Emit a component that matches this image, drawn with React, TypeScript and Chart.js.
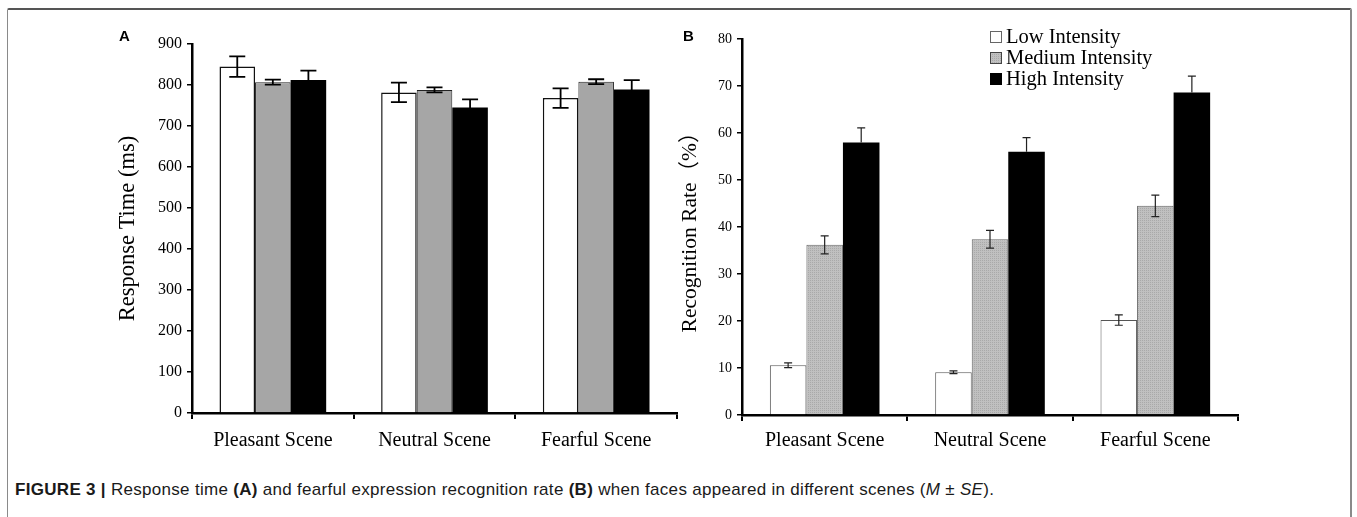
import React, { useEffect, useRef } from 'react';
import { Chart, registerables } from 'chart.js';

Chart.register(...registerables);

// ---------- data ----------
const categories = ['Pleasant Scene', 'Neutral Scene', 'Fearful Scene'];
const seriesLabels = ['Low Intensity', 'Medium Intensity', 'High Intensity'];

// Panel A: response time (ms)
const rtLow = [845, 782, 768];
const rtMedium = [807, 788, 808];
const rtHigh = [812, 745, 789];
const rtLowErr = [25, 24, 24];
const rtMediumErr = [6, 6, 6];
const rtHighErr = [23, 20, 23];
const rtMin = 0;
const rtMax = 900;
const rtStep = 100;

// Panel B: recognition rate (%)
const rateLow = [10.6, 9.1, 20.2];
const rateMedium = [36.2, 37.4, 44.5];
const rateHigh = [58.0, 56.0, 68.6];
const rateLowErr = [0.5, 0.3, 1.1];
const rateMediumErr = [1.9, 1.9, 2.3];
const rateHighErr = [3.1, 3.0, 3.5];
const rateMin = 0;
const rateMax = 80;
const rateStep = 10;

const SERIF = "'Liberation Serif', 'Times New Roman', serif";
const SERIF_CJK = "'Liberation Serif', 'Noto Sans CJK SC', serif";

// ---------- plugins ----------
const errorBarPlugin = {
  id: 'errorBars',
  afterDatasetsDraw(chart: any, _args: any, opts: any) {
    const ctx = chart.ctx;
    const y = chart.scales.y;
    chart.data.datasets.forEach((ds: any, i: number) => {
      const meta = chart.getDatasetMeta(i);
      if (!ds.errors) return;
      ctx.save();
      ctx.strokeStyle = opts.color || '#000';
      ctx.lineWidth = opts.lineWidth || 1;
      const half = (opts.capWidth || 10) / 2;
      meta.data.forEach((bar: any, j: number) => {
        const v = ds.data[j];
        const e = ds.errors[j];
        const top = y.getPixelForValue(v + e);
        const bot = ds.upperOnly ? y.getPixelForValue(v) : y.getPixelForValue(v - e);
        const x = bar.x;
        ctx.beginPath();
        ctx.moveTo(x, top);
        ctx.lineTo(x, bot);
        ctx.moveTo(x - half, top);
        ctx.lineTo(x + half, top);
        if (!ds.upperOnly) {
          ctx.moveTo(x - half, bot);
          ctx.lineTo(x + half, bot);
        }
        ctx.stroke();
      });
      ctx.restore();
    });
  },
};

const boxLegendPlugin = {
  id: 'boxLegend',
  afterDraw(chart: any, _args: any, opts: any) {
    if (!opts || !opts.display) return;
    const ctx = chart.ctx;
    ctx.save();
    ctx.font = `${opts.fontSize}px ${SERIF}`;
    ctx.textBaseline = 'middle';
    ctx.textAlign = 'left';
    chart.data.datasets.forEach((ds: any, i: number) => {
      const cy = opts.y + i * opts.rowHeight;
      const bx = opts.x;
      const s = opts.box;
      ctx.fillStyle = ds.backgroundColor;
      ctx.fillRect(bx, cy - s / 2, s, s);
      ctx.strokeStyle = ds.legendBorder || '#000';
      ctx.lineWidth = 1;
      ctx.strokeRect(bx + 0.5, cy - s / 2 + 0.5, s - 1, s - 1);
      ctx.fillStyle = '#000';
      ctx.fillText(ds.label, bx + s + 4, cy + 1);
    });
    ctx.restore();
  },
};

function makeDotPattern(): CanvasPattern | string {
  const c = document.createElement('canvas');
  c.width = 2;
  c.height = 2;
  const g = c.getContext('2d');
  if (!g) return '#b8b8b8';
  g.fillStyle = '#c0c0c0';
  g.fillRect(0, 0, 2, 2);
  g.fillStyle = '#a9a9a9';
  g.fillRect(0, 0, 1, 1);
  const p = g.createPattern(c, 'repeat');
  return p || '#b8b8b8';
}

function axisCommon() {
  return {
    grid: {
      display: true,
      drawOnChartArea: false,
      drawTicks: true,
      color: '#000',
      lineWidth: 2,
    },
    border: { display: true, color: '#000', width: 2.5 },
  };
}

function ChartA() {
  const ref = useRef<HTMLCanvasElement>(null);
  useEffect(() => {
    if (!ref.current) return;
    const chart = new Chart(ref.current, {
      type: 'bar',
      data: {
        labels: categories,
        datasets: [
          {
            label: seriesLabels[0],
            data: rtLow,
            errors: rtLowErr,
            backgroundColor: '#ffffff',
            borderColor: '#111',
            borderWidth: 1.5,
          } as any,
          {
            label: seriesLabels[1],
            data: rtMedium,
            errors: rtMediumErr,
            backgroundColor: '#a6a6a6',
            borderColor: '#222',
            borderWidth: 1,
          } as any,
          {
            label: seriesLabels[2],
            data: rtHigh,
            errors: rtHighErr,
            backgroundColor: '#000000',
            borderColor: '#000',
            borderWidth: 0,
          } as any,
        ],
      },
      options: {
        animation: false,
        responsive: false,
        devicePixelRatio: 1,
        layout: { padding: { top: 24, right: 3, bottom: 0, left: 0 } },
        datasets: { bar: { barPercentage: 1, categoryPercentage: 0.66 } },
        plugins: {
          legend: { display: false },
          tooltip: { enabled: false },
          errorBars: { capWidth: 16, lineWidth: 1.8, color: '#000' },
          boxLegend: { display: false },
        } as any,
        scales: {
          x: {
            ...axisCommon(),
            offset: true,
            grid: { ...axisCommon().grid, offset: true, tickLength: 6 },
            ticks: { color: '#000', font: { family: SERIF, size: 20 }, padding: 10 },
            afterFit: (s: any) => {
              s.height = 57;
            },
          },
          y: {
            ...axisCommon(),
            min: rtMin,
            max: rtMax,
            grid: { ...axisCommon().grid, tickLength: 5, lineWidth: 1.5 },
            ticks: { stepSize: rtStep, color: '#000', font: { family: SERIF, size: 16 }, padding: 5 },
            title: {
              display: true,
              text: 'Response Time (ms)',
              color: '#000',
              font: { family: SERIF, size: 22.5 },
              padding: { top: 15, bottom: 0 },
            },
            afterFit: (s: any) => {
              s.width = 92;
            },
          },
        },
      } as any,
      plugins: [errorBarPlugin, boxLegendPlugin],
    });
    return () => chart.destroy();
  }, []);
  return <canvas ref={ref} width={580} height={450} style={{ width: 580, height: 450, display: 'block' }} />;
}

function ChartB() {
  const ref = useRef<HTMLCanvasElement>(null);
  useEffect(() => {
    if (!ref.current) return;
    const pattern = makeDotPattern();
    const chart = new Chart(ref.current, {
      type: 'bar',
      data: {
        labels: categories,
        datasets: [
          {
            label: seriesLabels[0],
            data: rateLow,
            errors: rateLowErr,
            backgroundColor: '#ffffff',
            borderColor: '#555',
            borderWidth: 1,
            legendBorder: '#666',
          } as any,
          {
            label: seriesLabels[1],
            data: rateMedium,
            errors: rateMediumErr,
            backgroundColor: pattern,
            borderColor: '#666',
            borderWidth: 1,
            legendBorder: '#444',
          } as any,
          {
            label: seriesLabels[2],
            data: rateHigh,
            errors: rateHighErr,
            upperOnly: true,
            backgroundColor: '#000000',
            borderColor: '#000',
            borderWidth: 0,
            legendBorder: '#000',
          } as any,
        ],
      },
      options: {
        animation: false,
        responsive: false,
        devicePixelRatio: 1,
        layout: { padding: { top: 19, right: 102, bottom: 0, left: 0 } },
        datasets: { bar: { barPercentage: 1, categoryPercentage: 0.663 } },
        plugins: {
          legend: { display: false },
          tooltip: { enabled: false },
          errorBars: { capWidth: 8, lineWidth: 1.2, color: '#222' },
          boxLegend: { display: true, x: 350, y: 17, rowHeight: 21, box: 12, fontSize: 20.5 },
        } as any,
        scales: {
          x: {
            ...axisCommon(),
            offset: true,
            grid: { ...axisCommon().grid, offset: true, tickLength: 6 },
            ticks: { color: '#000', font: { family: SERIF, size: 20 }, padding: 8 },
            afterFit: (s: any) => {
              s.height = 55;
            },
          },
          y: {
            ...axisCommon(),
            min: rateMin,
            max: rateMax,
            grid: { ...axisCommon().grid, tickLength: 5, lineWidth: 1.5 },
            ticks: { stepSize: rateStep, color: '#000', font: { family: SERIF, size: 14 }, padding: 5 },
            title: {
              display: true,
              text: 'Recognition Rate（%）',
              color: '#000',
              font: { family: SERIF_CJK, size: 21.5 },
              padding: { top: 37, bottom: 0 },
            },
            afterFit: (s: any) => {
              s.width = 102;
            },
          },
        },
      } as any,
      plugins: [errorBarPlugin, boxLegendPlugin],
    });
    return () => chart.destroy();
  }, []);
  return <canvas ref={ref} width={700} height={450} style={{ width: 700, height: 450, display: 'block' }} />;
}

export default function App() {
  useEffect(() => {
    document.body.style.margin = '0';
    document.body.style.overflow = 'hidden';
  }, []);
  const panelLabel: React.CSSProperties = {
    position: 'absolute',
    fontFamily: "'Liberation Sans', Arial, sans-serif",
    fontWeight: 'bold',
    fontSize: 15,
    color: '#000',
    lineHeight: '15px',
  };
  return (
    <div style={{ position: 'relative', width: 1357, height: 517, overflow: 'hidden', background: '#fff' }}>
      <div
        style={{
          position: 'absolute',
          left: 7,
          top: 8,
          width: 1345,
          height: 600,
          borderLeft: '1.5px solid #8a8a8a',
          borderRight: '2px solid #8a8a8a',
          borderTop: '2px solid #555',
          borderRadius: 2,
          boxSizing: 'border-box',
        }}
      />
      <div style={{ position: 'absolute', left: 100, top: 20 }}>
        <ChartA />
      </div>
      <div style={{ position: 'absolute', left: 640, top: 20 }}>
        <ChartB />
      </div>
      <div style={{ ...panelLabel, left: 119, top: 28 }}>A</div>
      <div style={{ ...panelLabel, left: 683, top: 28 }}>B</div>
      <div
        style={{
          position: 'absolute',
          left: 15,
          top: 480,
          fontFamily: "'Liberation Sans', Arial, sans-serif",
          fontSize: 17,
          letterSpacing: '0.3px',
          color: '#1a1a1a',
          whiteSpace: 'nowrap',
        }}
      >
        <b>FIGURE 3 |</b> Response time <b>(A)</b> and fearful expression recognition rate <b>(B)</b> when faces appeared in
        different scenes (<i>M</i> ± <i>SE</i>).
      </div>
    </div>
  );
}
